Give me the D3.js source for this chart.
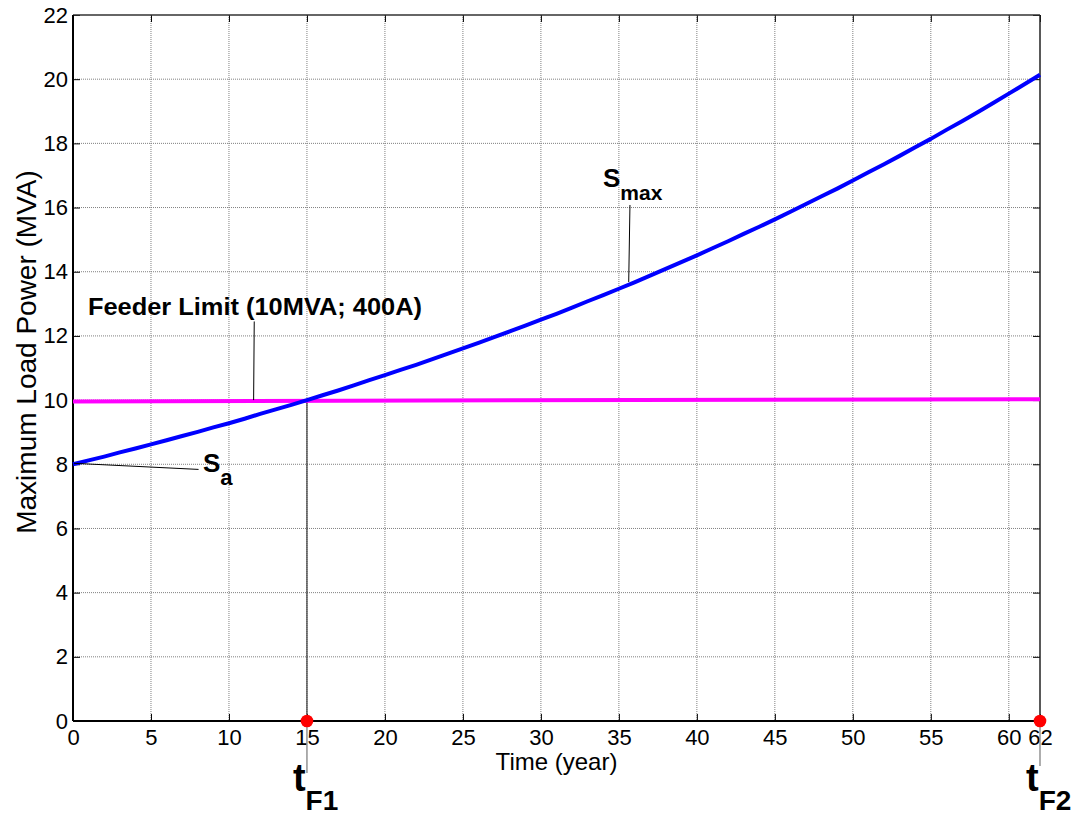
<!DOCTYPE html>
<html><head><meta charset="utf-8">
<script src="https://cdn.jsdelivr.net/npm/d3@7"></script>
<style>
html,body{margin:0;padding:0;background:#fff;}
svg{display:block;font-family:"Liberation Sans",Arial,Helvetica,sans-serif;}
</style></head>
<body>
<svg id="chart" width="1088" height="817"></svg>
<script>
// ---- data ----
const years = d3.range(0, 63);
const sMax = [8.00,8.12,8.24,8.37,8.49,8.62,8.75,8.88,9.01,9.15,9.28,9.42,9.57,9.71,9.85,10.00,
  10.15,10.30,10.46,10.62,10.78,10.94,11.10,11.27,11.44,11.61,11.78,11.96,12.14,12.32,12.51,
  12.69,12.88,13.08,13.27,13.47,13.67,13.88,14.09,14.30,14.51,14.73,14.95,15.18,15.40,15.63,
  15.87,16.11,16.35,16.59,16.84,17.10,17.35,17.61,17.88,18.14,18.42,18.69,18.97,19.26,19.55,
  19.84,20.14];
const limitYears = [0, 62];
const limitValues = [9.96, 10.03];
const failurePoints = [15, 62];
const xTicks = [0,5,10,15,20,25,30,35,40,45,50,55,60,62];
const xGrid = [5,10,15,20,25,30,35,40,45,50,55,60];
const yTicks = [0,2,4,6,8,10,12,14,16,18,20,22];
const yGrid = [2,4,6,8,10,12,14,16,18,20];
const xLabel = "Time (year)";
const yLabel = "Maximum Load Power (MVA)";
const limitLabel = "Feeder Limit (10MVA; 400A)";

// ---- layout ----
const svg = d3.select("#chart");
const L = 73, R = 1040, T = 15, B = 721;
const x = d3.scaleLinear().domain([0, 62]).range([L, R]);
const y = d3.scaleLinear().domain([0, 22]).range([B, T]);

// grid
const g = svg.append("g");
g.selectAll(".vg").data(xGrid).join("line")
  .attr("x1", d => x(d)).attr("x2", d => x(d)).attr("y1", T).attr("y2", B)
  .attr("stroke", "#808080").attr("stroke-width", 1).attr("stroke-dasharray", "1,1");
g.selectAll(".hg").data(yGrid).join("line")
  .attr("x1", L).attr("x2", R).attr("y1", d => y(d)).attr("y2", d => y(d))
  .attr("stroke", "#808080").attr("stroke-width", 1).attr("stroke-dasharray", "1,1");

// axes (inward ticks, MATLAB style)
const tl = 7;
const xAxB = d3.axisBottom(x).tickValues(xTicks).tickSize(-tl).tickPadding(8).tickSizeOuter(0);
const xAxT = d3.axisTop(x).tickValues(xTicks).tickSize(-tl).tickFormat("").tickSizeOuter(0);
const yAxL = d3.axisLeft(y).tickValues(yTicks).tickSize(-tl).tickPadding(5).tickSizeOuter(0);
const yAxR = d3.axisRight(y).tickValues(yTicks).tickSize(-tl).tickFormat("").tickSizeOuter(0);

function style(sel){
  sel.selectAll(".domain").remove();
  sel.selectAll(".tick line").attr("stroke", "#000").attr("stroke-width", 1);
  sel.selectAll("text").attr("fill", "#000").style("font-size", "22px")
    .style("font-family", '"Liberation Sans",Arial,sans-serif');
}
svg.append("g").attr("transform", `translate(0,${B})`).call(xAxB).call(style);
svg.append("g").attr("transform", `translate(0,${T})`).call(xAxT).call(style);
svg.append("g").attr("transform", `translate(${L},0)`).call(yAxL).call(style);
svg.append("g").attr("transform", `translate(${R},0)`).call(yAxR).call(style);

// box
svg.append("line").attr("x1", L).attr("x2", R).attr("y1", T).attr("y2", T).attr("stroke", "#333").attr("stroke-width", 1.5);
svg.append("line").attr("x1", R).attr("x2", R).attr("y1", T).attr("y2", B).attr("stroke", "#222").attr("stroke-width", 1.5);
svg.append("line").attr("x1", L).attr("x2", L).attr("y1", T).attr("y2", B).attr("stroke", "#000").attr("stroke-width", 2);
svg.append("line").attr("x1", L).attr("x2", R).attr("y1", B).attr("y2", B).attr("stroke", "#000").attr("stroke-width", 2);

// axis labels
svg.append("text").attr("x", (x(0)+x(62))/2).attr("y", 770).attr("text-anchor", "middle")
  .style("font-size", "24px").text(xLabel);
svg.append("text").attr("transform", `translate(36,352) rotate(-90)`)
  .attr("text-anchor", "middle").style("font-size", "28px").text(yLabel);

// tF1 vertical marker line
svg.append("line").attr("x1", x(15)).attr("x2", x(15)).attr("y1", y(10)).attr("y2", B)
  .attr("stroke", "#333").attr("stroke-width", 1.2);
svg.append("line").attr("x1", x(15)).attr("x2", x(15)).attr("y1", B).attr("y2", B + 52)
  .attr("stroke", "#777").attr("stroke-width", 1.2);
svg.append("line").attr("x1", x(62)).attr("x2", x(62)).attr("y1", B).attr("y2", B + 45)
  .attr("stroke", "#777").attr("stroke-width", 1.2);

// feeder limit line
const limitData = limitYears.map((t, i) => [t, limitValues[i]]);
svg.append("path").datum(limitData)
  .attr("d", d3.line().x(d => x(d[0])).y(d => y(d[1])))
  .attr("fill", "none").attr("stroke", "#ff00ff").attr("stroke-width", 4);

// Smax curve
const curve = years.map((t, i) => [t, sMax[i]]);
svg.append("path").datum(curve)
  .attr("d", d3.line().x(d => x(d[0])).y(d => y(d[1])))
  .attr("fill", "none").attr("stroke", "#0000ff").attr("stroke-width", 4).attr("stroke-linejoin", "round");

// failure points
svg.selectAll(".fp").data(failurePoints).join("circle")
  .attr("cx", d => x(d)).attr("cy", y(0)).attr("r", 6.3).attr("fill", "#ff0000");

// annotations
const ann = svg.append("g").style("font-weight", "bold").attr("fill", "#000");
ann.append("text").attr("x", x(0.96)).attr("y", y(12.65)).style("font-size", "24px")
  .attr("textLength", 334).attr("lengthAdjust", "spacingAndGlyphs").text(limitLabel);
svg.append("line").attr("x1", x(11.62)).attr("y1", y(12.45)).attr("x2", x(11.58)).attr("y2", y(10.0))
  .attr("stroke", "#000").attr("stroke-width", 1);

// Smax label
const smT = ann.append("text").attr("x", x(33.98)).attr("y", y(16.64));
smT.append("tspan").style("font-size", "26px").text("S");
smT.append("tspan").attr("dy", 13).style("font-size", "21px").text("max");
svg.append("line").attr("x1", x(35.71)).attr("y1", y(16.08)).attr("x2", x(35.63)).attr("y2", y(13.68))
  .attr("stroke", "#000").attr("stroke-width", 1);

// Sa label
const saT = ann.append("text").attr("x", x(8.33)).attr("y", y(7.77));
saT.append("tspan").style("font-size", "26px").text("S");
saT.append("tspan").attr("dy", 13).style("font-size", "22px").text("a");
svg.append("line").attr("x1", x(0.06)).attr("y1", y(8.03)).attr("x2", x(8.05)).attr("y2", y(7.84))
  .attr("stroke", "#000").attr("stroke-width", 1);

// tF labels
const tLabels = [{t: 15, sub: "F1"}, {t: 62, sub: "F2"}];
tLabels.forEach(d => {
  const tx = ann.append("text").attr("x", x(d.t) - 14).attr("y", B + 70);
  tx.append("tspan").style("font-size", "38px").text("t");
  tx.append("tspan").attr("dy", 19).style("font-size", "28px").text(d.sub);
});
</script>
</body></html>
